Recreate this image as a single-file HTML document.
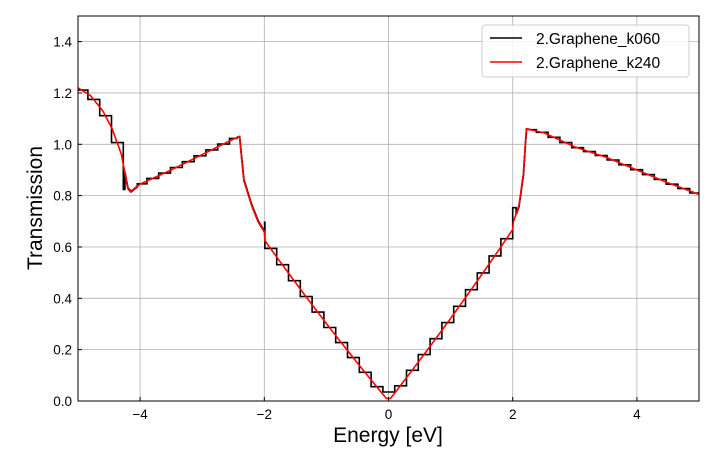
<!DOCTYPE html>
<html><head><meta charset="utf-8"><style>
body{margin:0;background:#fff;}
svg text{font-family:"Liberation Sans",sans-serif;fill:#000;}
</style></head><body>
<svg id="s" width="720" height="454" xmlns="http://www.w3.org/2000/svg">
<rect width="720" height="454" fill="#fff"/>
<g id="grid" stroke="#b0b0b0" stroke-width="0.8"></g>
<path id="blk" fill="none" stroke="#000" stroke-width="1.6"/>
<path id="red" fill="none" stroke="#ff0000" stroke-width="1.6"/>
<rect x="78" y="16" width="621" height="385" fill="none" stroke="#000" stroke-width="1"/>
<g id="ticks" stroke="#000" stroke-width="1"></g>
<g id="lbl" font-size="13.5"></g>
<text x="388" y="442" font-size="21" text-anchor="middle">Energy [eV]</text>
<text transform="translate(42,208) rotate(-90)" font-size="21" text-anchor="middle">Transmission</text>
<rect x="482" y="25" width="207" height="52" rx="3" fill="#fff" fill-opacity="0.85" stroke="#ccc"/>
<line x1="490" y1="38" x2="522" y2="38" stroke="#000" stroke-width="1.6"/>
<text x="536" y="44" font-size="15.5">2.Graphene_k060</text>
<line x1="490" y1="62" x2="522" y2="62" stroke="#ff0000" stroke-width="1.6"/>
<text x="536" y="68" font-size="15.5">2.Graphene_k240</text>
</svg>
<script>
var X=function(e){return 388.5+e*62.1},Y=function(t){return 401-t*256.7};
var g=document.getElementById('grid'),tk=document.getElementById('ticks'),lb=document.getElementById('lbl');
var ns='http://www.w3.org/2000/svg';
function el(p,n,a,t){var e=document.createElementNS(ns,n);for(var k in a)e.setAttribute(k,a[k]);if(t)e.textContent=t;p.appendChild(e);}
[-4,-2,0,2,4].forEach(function(v){var x=X(v);el(g,'line',{x1:x,x2:x,y1:16,y2:401});el(tk,'line',{x1:x,x2:x,y1:401,y2:397});
el(lb,'text',{x:x,y:419,'text-anchor':'middle'},v<0?'\u2212'+(-v):''+v);});
for(var i=0;i<=7;i++){var v=i*0.2,y=Y(v);el(g,'line',{x1:78,x2:699,y1:y,y2:y});el(tk,'line',{x1:78,x2:82,y1:y,y2:y});
el(lb,'text',{x:72,y:y+5,'text-anchor':'end'},v.toFixed(1));}
var P=[[-5,1.22],[-4.8,1.19],[-4.6,1.13],[-4.45,1.06],[-4.3,0.96],[-4.2,0.83],[-4.15,0.815],[-4,0.845],[-3.5,0.9],[-3,0.96],[-2.5,1.02],[-2.4,1.03],[-2.33,0.86],[-2.2,0.76],[-2.1,0.70],[-2,0.66]];
var Q=[[2,0.69],[2.1,0.76],[2.17,0.88],[2.22,1.06],[2.5,1.045],[3,0.99],[3.5,0.95],[4,0.9],[4.5,0.85],[5,0.805]];
function lin(A,x){for(var i=0;i<A.length-1;i++){if(x<=A[i+1][0]){var t=(x-A[i][0])/(A[i+1][0]-A[i][0]);return A[i][1]+t*(A[i+1][1]-A[i][1]);}}return A[A.length-1][1];}
function f(x){if(x<=-2)return lin(P,x);if(x>=2)return lin(Q,x);var a=Math.abs(x);return Math.max(0.01,0.31*a+0.012*a*a+(x<0?-0.02*a:0.0));}
var r='',b='';
for(var x=-5;x<=5.0001;x+=0.01){r+=(r?'L':'M')+X(x).toFixed(1)+','+Y(f(x)).toFixed(1);}
var st=0.19,prev=null;
function smooth(x){return (x>-4.25&&x<-4.05)||(x>-2.45&&x<-2.0)||(x>2.05&&x<2.28);}
for(var x=-5;x<=5.0001;x+=0.005){var q=Math.round(x/st)*st;var yv=smooth(x)?f(x):Math.max(0.035,f(q));
var px=X(x).toFixed(1),py=Y(yv).toFixed(1);
if(!b)b='M'+px+','+py;else{ if(prev!==null&&prev!=py)b+='L'+px+','+prev; b+='L'+px+','+py;}prev=py;}
document.getElementById('red').setAttribute('d',r);
document.getElementById('blk').setAttribute('d',b);
</script>
</body></html>
